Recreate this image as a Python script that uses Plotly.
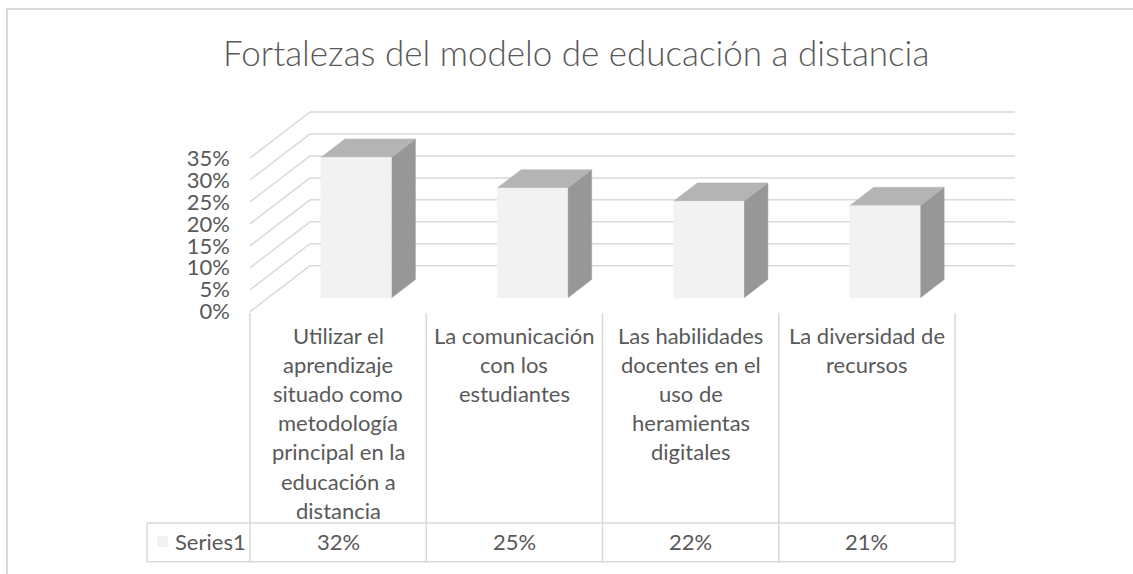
import plotly.graph_objects as go

# ---------------- data ----------------
categories = [
    "Utilizar el<br>aprendizaje<br>situado como<br>metodología<br>principal en la<br>educación a<br>distancia",
    "La comunicación<br>con los<br>estudiantes",
    "Las habilidades<br>docentes en el<br>uso de<br>heramientas<br>digitales",
    "La diversidad de<br>recursos",
]
values = [0.32, 0.25, 0.22, 0.21]
series_name = "Series1"
y_ticks = [0, 0.05, 0.10, 0.15, 0.20, 0.25, 0.30, 0.35]
title_text = "Fortalezas del modelo de educación a distancia"

# ---------------- geometry (oblique 3D projection) ----------------
W, H = 1133, 574
X0_PX, UNIT_PX = 250, 176.25     # front plane: category index 0 at x pixel 250
Y0_PX, VAL_PX = 311.7, 439.1     # front plane: value 0 at y pixel 311.7
DX = 60 / UNIT_PX                # full depth shift in x units
DY = 46 / VAL_PX                 # full depth shift in value units
F0, F1 = 0.3, 0.7                # bar depth span
BAR_W = 0.4

xr = [(0 - X0_PX) / UNIT_PX, (W - X0_PX) / UNIT_PX]
yr = [(Y0_PX - H) / VAL_PX, Y0_PX / VAL_PX]


def px(x):
    return x / W


def py(y):
    return 1 - y / H


TXT = "#595959"
GRID = "#d9d9d9"
FONT = "Lato"
n = len(categories)

fig = go.Figure()

# walls gridlines
gx, gy = [], []
for t in y_ticks:
    # back wall
    gx += [0 + DX, n + DX, None]
    gy += [t + DY, t + DY, None]
    # side wall diagonal
    gx += [0, DX, None]
    gy += [t, t + DY, None]
fig.add_trace(go.Scatter(x=gx, y=gy, mode="lines", line=dict(color=GRID, width=1.5),
                         hoverinfo="skip", showlegend=False))

fx, fy, sx, sy, tx, ty = [], [], [], [], [], []
for i, v in enumerate(values):
    l = i + 0.5 - BAR_W / 2
    r = i + 0.5 + BAR_W / 2
    ox0, oy0 = F0 * DX, F0 * DY
    ox1, oy1 = F1 * DX, F1 * DY
    fx += [l + ox0, r + ox0, r + ox0, l + ox0, l + ox0, None]
    fy += [oy0, oy0, v + oy0, v + oy0, oy0, None]
    sx += [r + ox0, r + ox1, r + ox1, r + ox0, r + ox0, None]
    sy += [oy0, oy1, v + oy1, v + oy0, oy0, None]
    tx += [l + ox0, r + ox0, r + ox1, l + ox1, l + ox0, None]
    ty += [v + oy0, v + oy0, v + oy1, v + oy1, v + oy0, None]

for xs, ys, col in [(sx, sy, "#979797"), (tx, ty, "#b4b4b4"), (fx, fy, "#f2f2f2")]:
    fig.add_trace(go.Scatter(x=xs, y=ys, mode="lines", fill="toself", fillcolor=col,
                             line=dict(color=col, width=0.5), hoverinfo="skip",
                             showlegend=False))

shapes = []
TOP, MID, BOT = 313, 523, 561.7
LEFT_U = (147 - X0_PX) / UNIT_PX
for k in range(n + 1):
    shapes.append(dict(type="line", xref="x", yref="paper", x0=k, x1=k,
                       y0=py(TOP), y1=py(BOT), line=dict(color=GRID, width=1.5)))
shapes.append(dict(type="line", xref="x", yref="paper", x0=LEFT_U, x1=LEFT_U,
                   y0=py(MID), y1=py(BOT), line=dict(color=GRID, width=1.5)))
for yy in (MID, BOT):
    shapes.append(dict(type="line", xref="x", yref="paper", x0=LEFT_U, x1=n,
                       y0=py(yy), y1=py(yy), line=dict(color=GRID, width=1.5)))
# legend key
shapes.append(dict(type="rect", xref="paper", yref="paper", x0=px(157), x1=px(168),
                   y0=py(547), y1=py(536), fillcolor="#f2f2f2", line=dict(width=0)))
# chart border
shapes.append(dict(type="rect", xref="paper", yref="paper", x0=px(7), x1=px(1150),
                   y0=py(9), y1=py(600), line=dict(color=GRID, width=2)))

ann = []
for i, c in enumerate(categories):
    for k, line in enumerate(c.split("<br>")):
        ann.append(dict(x=i + 0.5, xref="x", y=py(335 + k * 29.2), yref="paper",
                        text=line, showarrow=False, xanchor="center", yanchor="middle",
                        font=dict(family=FONT, size=22, color=TXT)))
    ann.append(dict(x=i + 0.5, xref="x", y=py(541), yref="paper",
                    text=f"{values[i]:.0%}", showarrow=False, xanchor="center",
                    yanchor="middle", font=dict(family=FONT, size=22, color=TXT)))
ann.append(dict(x=px(173), xref="paper", y=py(541), yref="paper", text=series_name,
                showarrow=False, xanchor="left", yanchor="middle",
                font=dict(family=FONT, size=22, color=TXT)))
# title
ann.append(dict(x=px(576), xref="paper", y=py(52), yref="paper", text=title_text,
                showarrow=False, xanchor="center", yanchor="middle",
                font=dict(family=FONT, size=35, color=TXT, weight=300)))
# cut-off copy of the title at the very top edge
ann.append(dict(x=px(576), xref="paper", y=py(8.5), yref="paper", text=title_text,
                showarrow=False, xanchor="center", yanchor="bottom",
                font=dict(family=FONT, size=35, color=TXT, weight=300)))

fig.update_layout(
    width=W, height=H,
    margin=dict(l=0, r=0, t=0, b=0),
    paper_bgcolor="white", plot_bgcolor="white",
    xaxis=dict(range=xr, visible=False, fixedrange=True),
    yaxis=dict(range=yr, anchor="free", position=px(X0_PX), side="left",
               tickvals=y_ticks, tickformat=".0%", showgrid=False, zeroline=False,
               showline=False, ticks="", ticklabelstandoff=20, fixedrange=True,
               tickfont=dict(family=FONT, size=22, color=TXT)),
    shapes=shapes, annotations=ann, showlegend=False,
)

fig.write_html(
    "out.html",
    config={"displayModeBar": False},
    post_script="document.body.style.margin='0';document.body.style.overflow='hidden';",
)
